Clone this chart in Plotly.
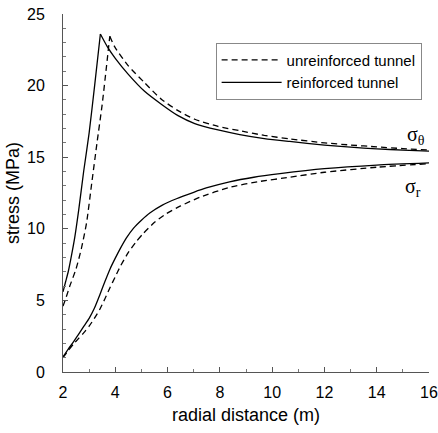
import plotly.graph_objects as go

# --- data ---
r_th_reinf = [2.0, 2.1, 2.2, 2.3, 2.45, 2.6, 2.79, 3.0, 3.21, 3.43, 3.7, 4.0, 4.49, 5.12, 5.76, 6.4, 7.04,
              7.93, 8.76, 9.7, 10.67, 12.0, 13.0, 14.0, 15.0, 16.0]
s_th_reinf = [5.6, 6.3, 7.0, 7.9, 9.4, 11.3, 14.0, 16.7, 20.0, 23.6, 22.7, 21.9, 20.8, 19.6, 18.7, 17.9, 17.35,
              16.9, 16.58, 16.3, 16.1, 15.85, 15.7, 15.58, 15.5, 15.42]

r_th_unre = [2.0, 2.1, 2.26, 2.5, 2.7, 2.9, 3.1, 3.3, 3.5, 3.79, 3.98, 4.49, 5.12, 5.76, 6.4, 7.04, 7.93,
             8.76, 9.7, 10.67, 12.0, 13.0, 14.0, 15.0, 16.0]
s_th_unre = [4.6, 5.1, 6.0, 7.2, 8.6, 10.4, 13.2, 16.0, 18.7, 23.45, 22.7, 21.4, 20.2, 19.05, 18.25, 17.65, 17.15,
             16.85, 16.52, 16.28, 16.0, 15.85, 15.72, 15.6, 15.5]

r_r_reinf = [2.0, 2.2, 2.4, 2.6, 2.8, 3.0, 3.2, 3.4, 3.6, 3.8, 4.0, 4.2, 4.42, 4.7, 5.0, 5.32, 5.8, 6.34,
             7.0, 7.48, 8.37, 9.3, 10.3, 12.0, 14.0, 16.0]
s_r_reinf = [1.05, 1.6, 2.1, 2.65, 3.2, 3.75, 4.45, 5.35, 6.3, 7.2, 7.95, 8.65, 9.35, 10.05, 10.6, 11.1, 11.65, 12.1,
             12.55, 12.85, 13.28, 13.6, 13.85, 14.2, 14.45, 14.6]

r_r_unre = [2.0, 2.2, 2.4, 2.6, 2.8, 3.0, 3.2, 3.4, 3.6, 3.8, 4.0, 4.2, 4.5, 4.8, 5.06, 5.5, 5.95, 6.5,
            7.23, 8.37, 9.5, 10.67, 12.0, 14.0, 16.0]
s_r_unre = [1.0, 1.5, 1.95, 2.35, 2.75, 3.2, 3.75, 4.35, 5.1, 5.9, 6.65, 7.4, 8.35, 9.1, 9.65, 10.45, 11.05, 11.6,
            12.2, 12.9, 13.3, 13.6, 13.95, 14.3, 14.55]

x_ticks = [2, 4, 6, 8, 10, 12, 14, 16]
y_ticks = [0, 5, 10, 15, 20, 25]

FONT = "Liberation Sans, Arial, sans-serif"
SERIF = "Liberation Serif, Times New Roman, serif"
DASH = "6px,4px"
LW = 1.3


def split_at_peak(xs, ys):
    k = ys.index(max(ys))
    return (xs[:k + 1], ys[:k + 1]), (xs[k:], ys[k:])


fig = go.Figure()


def add_curve(xs, ys, name, dash, show, split):
    line = dict(color="black", width=LW, dash=dash, shape="spline", smoothing=0.6)
    parts = split_at_peak(xs, ys) if split else [(xs, ys)]
    for i, (px, py) in enumerate(parts):
        fig.add_trace(go.Scatter(x=px, y=py, mode="lines", name=name,
                                 showlegend=(show and i == 0), line=line))


add_curve(r_th_unre, s_th_unre, "unreinforced tunnel", DASH, True, True)
add_curve(r_r_unre, s_r_unre, "unreinforced tunnel", DASH, False, False)
add_curve(r_th_reinf, s_th_reinf, "reinforced tunnel", "solid", True, True)
add_curve(r_r_reinf, s_r_reinf, "reinforced tunnel", "solid", False, False)

fig.add_annotation(x=15.5, y=16.5, text="σ<sub>θ</sub>", showarrow=False,
                   font=dict(family=SERIF, size=20, color="black"))
fig.add_annotation(x=15.4, y=12.9, text="σ<sub>r</sub>", showarrow=False,
                   font=dict(family=SERIF, size=20, color="black"))

axis_common = dict(showgrid=False, zeroline=False, showline=True, linecolor="#555", linewidth=1,
                   ticks="inside", ticklen=5, tickcolor="#555", tickwidth=1, automargin=False,
                   tickfont=dict(family=FONT, size=16, color="black"),
                   minor=dict(ticks="inside", ticklen=3, dtick=1, tickcolor="#777"))

fig.update_xaxes(range=[2, 16], tickvals=x_ticks, ticktext=[str(v) for v in x_ticks],
                 title=dict(text="radial distance (m)", font=dict(family=FONT, size=18, color="black"), standoff=8),
                 ticklabelstandoff=6, **axis_common)
fig.update_yaxes(range=[0, 25], tickvals=y_ticks, ticktext=[str(v) for v in y_ticks],
                 title=dict(text="stress (MPa)", font=dict(family=FONT, size=18, color="black"), standoff=2),
                 ticklabelstandoff=14, **axis_common)

fig.update_layout(
    width=438, height=433,
    margin=dict(l=63, r=9, t=14, b=61),
    plot_bgcolor="white", paper_bgcolor="white",
    font=dict(family=FONT, color="black"),
    legend=dict(x=0.417, y=0.92, xanchor="left", yanchor="top",
                bordercolor="#888", borderwidth=1, bgcolor="white",
                font=dict(family=FONT, size=15, color="black"),
                itemwidth=60, tracegroupgap=0),
)

fig.write_html("out.html")
